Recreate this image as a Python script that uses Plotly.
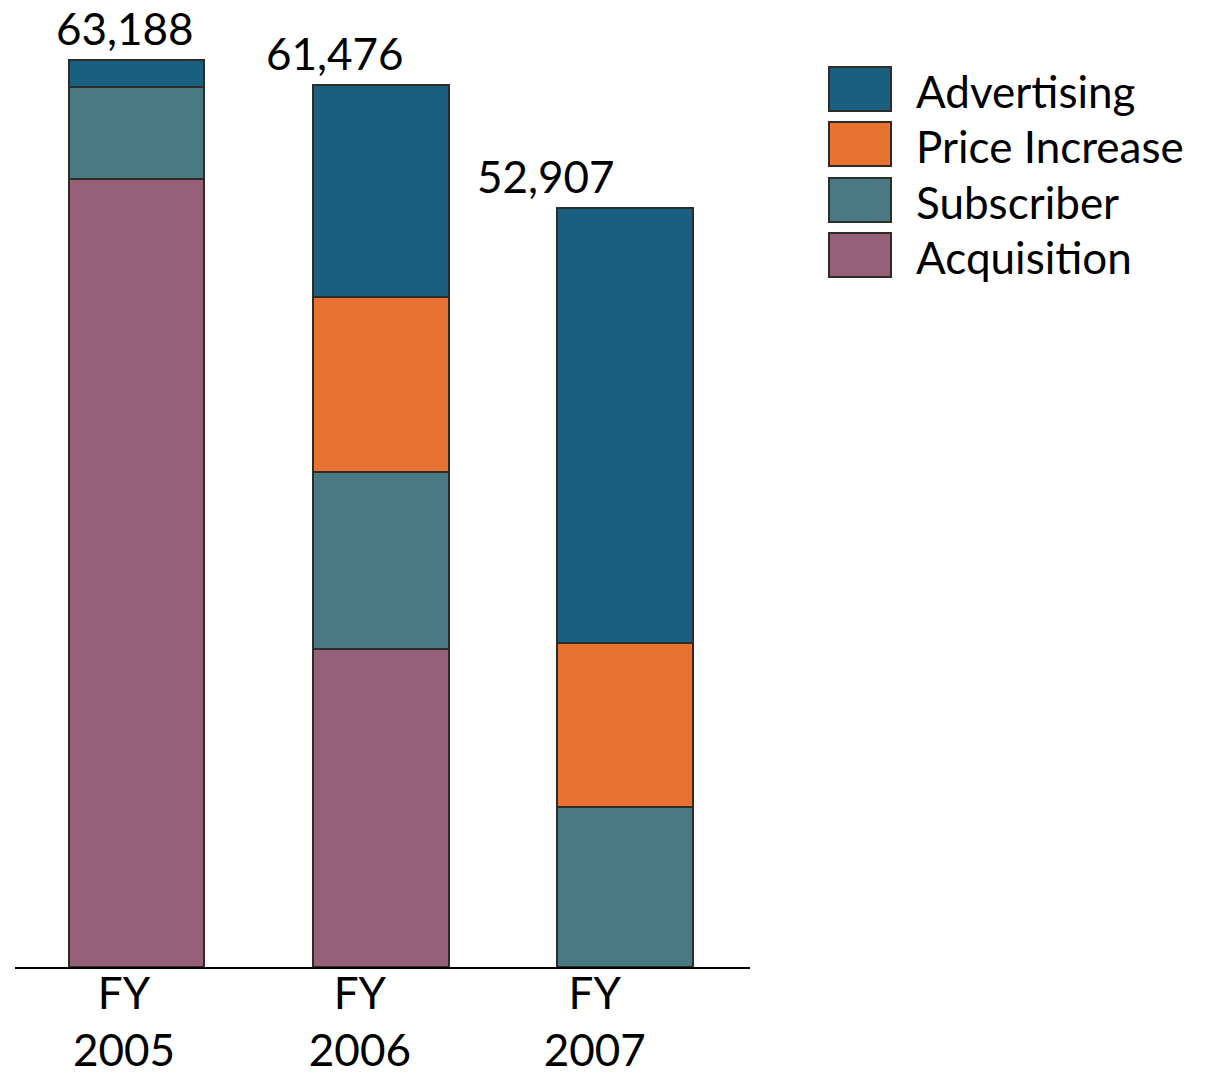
import plotly.graph_objects as go

# Fiscal years and the components of each year's total
years = ["2005", "2006", "2007"]
series = ["Advertising", "Price Increase", "Subscriber", "Acquisition"]
advertising = [1881, 14771, 30367]
price_increase = [0, 12241, 11395]
subscriber = [6409, 12309, 11145]
acquisition = [54898, 22155, 0]
totals = [63188, 61476, 52907]
total_labels = ["63,188", "61,476", "52,907"]

colors = {
    "Advertising": "#185f80",
    "Price Increase": "#e87232",
    "Subscriber": "#497985",
    "Acquisition": "#976079",
}
values = {
    "Advertising": advertising,
    "Price Increase": price_increase,
    "Subscriber": subscriber,
    "Acquisition": acquisition,
}

FONT = "Lato"
FS = 44
EDGE = "#2f2b27"

W, H = 1206, 1076
M_L, M_R, M_T, M_B = 15, 456, 20, 109
x_pos = [0, 1, 2]

fig = go.Figure()
# stack from bottom up
for name in reversed(series):
    fig.add_trace(go.Bar(
        x=x_pos,
        y=values[name],
        name=name,
        width=0.556,
        marker=dict(color=colors[name], line=dict(color=EDGE, width=2)),
        showlegend=False,
    ))

# total labels sit above each bar, slightly to the left
label_dx = [-0.049, -0.186, -0.325]
for i, (t, txt) in enumerate(zip(totals, total_labels)):
    fig.add_annotation(
        x=x_pos[i] + label_dx[i], y=t, xref="x", yref="y",
        text=txt, showarrow=False, yanchor="bottom", yshift=4,
        font=dict(family=FONT, size=FS, color="black"),
    )

# legend drawn as large swatches with text
plot_w = W - M_L - M_R
plot_h = H - M_T - M_B


def px_x(p):
    return (p - M_L) / plot_w


def px_y(p):
    return (H - M_B - p) / plot_h


row_top = [67, 122, 178, 233]
for name, top in zip(series, row_top):
    fig.add_shape(
        type="rect", xref="paper", yref="paper",
        x0=px_x(829), x1=px_x(891), y0=px_y(top + 44), y1=px_y(top),
        fillcolor=colors[name], line=dict(color=EDGE, width=2),
    )
    fig.add_annotation(
        x=px_x(914), y=px_y(top + 24), xref="paper", yref="paper",
        text=name, showarrow=False, xanchor="left", yanchor="middle",
        font=dict(family=FONT, size=FS, color="black"),
    )

tick_dx = [-0.051, -0.086, -0.125]
fig.update_layout(
    barmode="stack",
    width=W, height=H,
    margin=dict(l=M_L, r=M_R, t=M_T, b=M_B),
    plot_bgcolor="white", paper_bgcolor="white",
    bargap=0,
    xaxis=dict(
        range=[-0.497, 2.51],
        tickvals=[x + d for x, d in zip(x_pos, tick_dx)],
        ticktext=[f"FY<br>{y}" for y in years],
        tickfont=dict(family=FONT, size=FS, color="black"),
        ticklabelstandoff=-13,
        automargin=False,
        showline=True, linecolor="black", linewidth=1.5,
        showgrid=False, zeroline=False, ticks="",
    ),
    yaxis=dict(
        range=[0, 65974],
        visible=False, showgrid=False, zeroline=False,
    ),
)

fig.write_html("out.html")
